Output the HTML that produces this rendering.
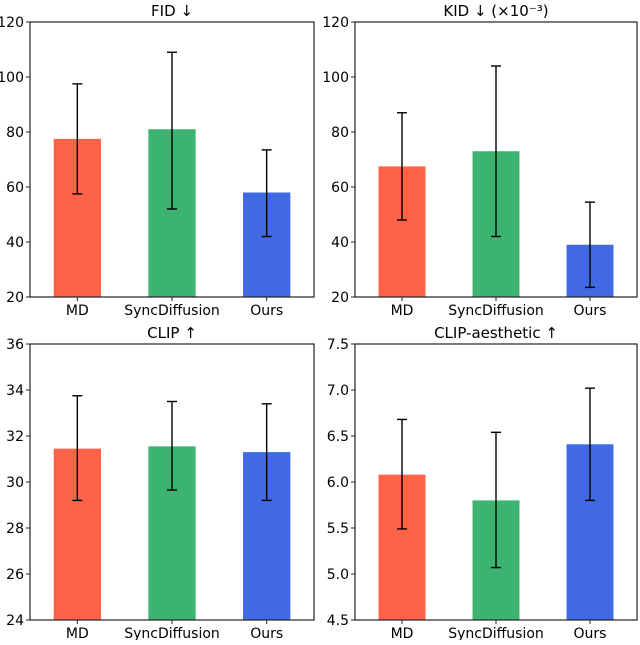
<!DOCTYPE html>
<html><head><meta charset="utf-8"><style>
body{margin:0;background:#fff;width:640px;height:640px;overflow:hidden}
svg text{font-family:"DejaVu Sans","Liberation Sans",sans-serif;font-size:14px;fill:#000}
svg text.title{font-size:15px}
</style></head><body>
<svg id="c" width="640" height="640"></svg>
<script>
const categories=["MD","SyncDiffusion","Ours"];
const colors=["#ff6347","#3cb371","#4169e1"];
const titles=["FID ↓","KID ↓ (×10⁻³)","CLIP ↑","CLIP-aesthetic ↑"];
const fidValues=[77.5,81,58];
const fidLow=[57.5,52,42];
const fidHigh=[97.5,109,73.5];
const kidValues=[67.5,73,39];
const kidLow=[48,42,23.5];
const kidHigh=[87,104,54.5];
const clipValues=[31.45,31.55,31.3];
const clipLow=[29.2,29.65,29.2];
const clipHigh=[33.75,33.5,33.4];
const aesValues=[6.08,5.8,6.41];
const aesLow=[5.49,5.07,5.8];
const aesHigh=[6.68,6.54,7.02];
const fidTicks=[20,40,60,80,100,120];
const kidTicks=[20,40,60,80,100,120];
const clipTicks=[24,26,28,30,32,34,36];
const aesTicks=[4.5,5.0,5.5,6.0,6.5,7.0,7.5];
const panels=[
 {name:"fid",v:fidValues,lo:fidLow,hi:fidHigh,t:fidTicks,dec:0,box:[30,22,314,297]},
 {name:"kid",v:kidValues,lo:kidLow,hi:kidHigh,t:kidTicks,dec:0,box:[355,22,637,297]},
 {name:"clip",v:clipValues,lo:clipLow,hi:clipHigh,t:clipTicks,dec:0,box:[30,344,314,620]},
 {name:"clip-aesthetic",v:aesValues,lo:aesLow,hi:aesHigh,t:aesTicks,dec:1,box:[355,344,637,620]}
];
const svg=document.getElementById('c');
const NS="http://www.w3.org/2000/svg";
function mk(tag,attrs,parent){const e=document.createElementNS(NS,tag);for(const k in attrs)e.setAttribute(k,attrs[k]);parent.appendChild(e);return e;}
panels.forEach((p,pi)=>{
 const [x0,y0,x1,y1]=p.box;
 const g=mk('g',{},svg);
 
 
 const ymin=p.t[0],ymax=p.t[p.t.length-1];
 const ys=v=>y1-(v-ymin)/(ymax-ymin)*(y1-y0);
 const step=(x1-x0)/3;
 const xs=i=>x0+step*(i+0.5);
 const bw=step*0.5;
 p.v.forEach((v,i)=>{
  const r=mk('rect',{x:xs(i)-bw/2,y:ys(v),width:bw,height:y1-ys(v),fill:colors[i]},g);
  
  
 });
 p.v.forEach((v,i)=>{
  const e=mk('g',{stroke:'#000','stroke-width':1.4},g);
  
  
  const cx=xs(i);
  mk('line',{x1:cx,x2:cx,y1:ys(p.lo[i]),y2:ys(p.hi[i])},e);
  mk('line',{x1:cx-5,x2:cx+5,y1:ys(p.lo[i]),y2:ys(p.lo[i])},e);
  mk('line',{x1:cx-5,x2:cx+5,y1:ys(p.hi[i]),y2:ys(p.hi[i])},e);
 });
 const fr=mk('rect',{x:x0,y:y0,width:x1-x0,height:y1-y0,fill:'none',stroke:'#222','stroke-width':1.2},g);
 
 
 p.t.forEach(t=>{
  const y=ys(t);
  mk('line',{x1:x0-4,x2:x0,y1:y,y2:y,stroke:'#222'},g);
  const tx=mk('text',{x:x0-6,y:y+5,'text-anchor':'end'},g);
  tx.textContent=t.toFixed(p.dec);
  
  
 });
 categories.forEach((c,i)=>{
  mk('line',{x1:xs(i),x2:xs(i),y1:y1,y2:y1+4,stroke:'#222'},g);
  const tx=mk('text',{x:xs(i),y:y1+18,'text-anchor':'middle'},g);
  tx.textContent=c;
  
  
 });
 const tt=mk('text',{x:(x0+x1)/2,y:y0-6,'text-anchor':'middle','class':'title'},g);
 tt.textContent=titles[pi];
 
 
});
</script>
</body></html>
